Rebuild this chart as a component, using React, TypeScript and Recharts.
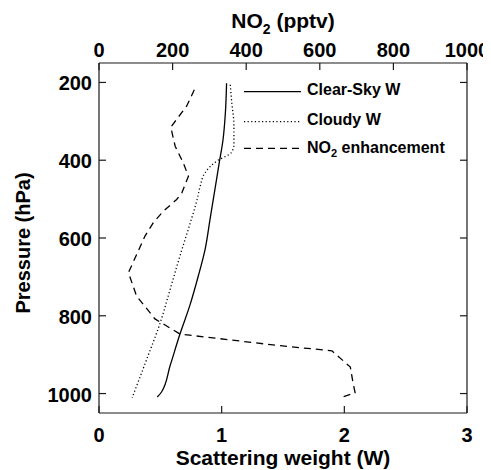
import React from 'react';
import { LineChart, Line, XAxis, YAxis, Legend } from 'recharts';

// pressure levels (hPa) and values
const clearP = [202, 280, 350, 407, 475, 552, 629, 697, 774, 847, 928, 996, 1009];
const clearW = [1.04, 1.03, 1.01, 0.98, 0.945, 0.905, 0.865, 0.81, 0.74, 0.66, 0.58, 0.51, 0.475];

const cloudyP = [206, 244, 313, 360, 380, 402, 432, 467, 501, 560, 646, 732, 817, 911, 1011];
const cloudyW = [1.07, 1.08, 1.1, 1.1, 1.08, 0.96, 0.865, 0.825, 0.8, 0.745, 0.66, 0.58, 0.5, 0.39, 0.27];

const no2P = [219, 261, 315, 364, 407, 441, 484, 501, 531, 560, 595, 689, 749, 808, 847, 877, 890, 932, 971, 998, 1011];
const no2V = [259, 238, 195, 207, 229, 243, 225, 211, 175, 148, 125, 80, 102, 152, 220, 492, 633, 683, 690, 696, 655];

const pressureTicks = [200, 400, 600, 800, 1000];
const wTicks = [0, 1, 2, 3];
const no2Ticks = [0, 200, 400, 600, 800, 1000];

const clearData = clearP.map((p, i) => ({ p, w: clearW[i] }));
const cloudyData = cloudyP.map((p, i) => ({ p, w: cloudyW[i] }));
const no2Data = no2P.map((p, i) => ({ p, v: no2V[i] }));

const FONT = '"Liberation Sans", Arial, Helvetica, sans-serif';
const AXIS = '#1a1a1a';
const TICK_LEN = 7;
const tickText = { fontFamily: FONT, fontSize: 20, fontWeight: 700, fill: '#000' };
const titleText = { fontFamily: FONT, fontSize: 21, fontWeight: 700, fill: '#000' };

const LeftTick = (props: any) => {
  const { x, y, payload } = props;
  return (
    <g>
      <line x1={x} x2={x + TICK_LEN} y1={y} y2={y} stroke={AXIS} strokeWidth={1.2} />
      <text x={x - 7} y={y} dy={8} textAnchor="end" style={tickText}>{payload.value}</text>
    </g>
  );
};

const RightTick = (props: any) => {
  const { x, y } = props;
  return <line x1={x - TICK_LEN} x2={x} y1={y} y2={y} stroke={AXIS} strokeWidth={1.2} />;
};

const BottomTick = (props: any) => {
  const { x, y, payload } = props;
  return (
    <g>
      <line x1={x} x2={x} y1={y - TICK_LEN} y2={y} stroke={AXIS} strokeWidth={1.2} />
      <text x={x} y={y + 29} textAnchor="middle" style={tickText}>{payload.value}</text>
    </g>
  );
};

const TopTick = (props: any) => {
  const { x, y, payload } = props;
  return (
    <g>
      <line x1={x} x2={x} y1={y} y2={y + TICK_LEN} stroke={AXIS} strokeWidth={1.2} />
      <text x={x} y={y - 6} textAnchor="middle" style={tickText}>{payload.value}</text>
    </g>
  );
};

const TopTitle = (props: any) => {
  const { viewBox } = props;
  const cx = viewBox.x + viewBox.width / 2;
  return (
    <text x={cx} y={20} textAnchor="middle" style={titleText}>
      NO<tspan dy={6} fontSize={14}>2</tspan>
      <tspan dy={-6}> (pptv)</tspan>
    </text>
  );
};

const BottomTitle = (props: any) => {
  const { viewBox } = props;
  const cx = viewBox.x + viewBox.width / 2;
  return (
    <text x={cx} y={457} textAnchor="middle" style={titleText}>
      Scattering weight (W)
    </text>
  );
};

const LeftTitle = (props: any) => {
  const { viewBox } = props;
  const cy = viewBox.y + viewBox.height / 2 + 5;
  const x = 22;
  return (
    <text x={x} y={cy} textAnchor="middle" transform={`rotate(-90 ${x} ${cy})`} style={{ ...titleText, fontSize: 20 }}>
      Pressure (hPa)
    </text>
  );
};

const legendItems = [
  { label: 'Clear-Sky W', dash: undefined, lineY: 13.7, textY: 17 },
  { label: 'Cloudy W', dash: '1.2 2.4', lineY: 43.7, textY: 47 },
  { label: 'NO2 enhancement', dash: '7 5', lineY: 70.3, textY: 75.3 },
];

const LegendBox = () => (
  <svg width={245} height={90} style={{ display: 'block', overflow: 'visible' }}>
    {legendItems.map((it) => (
      <g key={it.label}>
        <line x1={0} x2={57} y1={it.lineY} y2={it.lineY} stroke="#000" strokeWidth={1.3} strokeDasharray={it.dash} />
        <text x={63} y={it.textY} style={{ fontFamily: FONT, fontSize: 16, fontWeight: 700, fill: '#000' }}>
          {it.label.startsWith('NO2') ? (
            <>
              NO<tspan dy={4} fontSize={11}>2</tspan>
              <tspan dy={-4}> enhancement</tspan>
            </>
          ) : (
            it.label
          )}
        </text>
      </g>
    ))}
  </svg>
);

export default function App() {
  return (
    <LineChart
      width={483}
      height={462}
      layout="vertical"
      margin={{ top: 0, right: 0, bottom: 0, left: 0 }}
    >
      <XAxis
        xAxisId="bottom"
        type="number"
        orientation="bottom"
        domain={[0, 3]}
        ticks={wTicks}
        interval={0}
        height={57}
        allowDataOverflow
        tickLine={false}
        tickSize={0}
        tickMargin={0}
        tick={<BottomTick />}
        axisLine={{ stroke: AXIS, strokeWidth: 1.2 }}
        label={{ content: <BottomTitle /> }}
      />
      <XAxis
        xAxisId="top"
        type="number"
        orientation="top"
        domain={[0, 1000]}
        ticks={no2Ticks}
        interval={0}
        height={55}
        allowDataOverflow
        tickLine={false}
        tickSize={0}
        tickMargin={0}
        tick={<TopTick />}
        axisLine={{ stroke: AXIS, strokeWidth: 1.2 }}
        label={{ content: <TopTitle /> }}
      />
      <YAxis
        yAxisId="left"
        type="number"
        dataKey="p"
        orientation="left"
        domain={[150, 1050]}
        ticks={pressureTicks}
        interval={0}
        width={91}
        allowDataOverflow
        tickLine={false}
        tickSize={0}
        tickMargin={0}
        tick={<LeftTick />}
        axisLine={{ stroke: AXIS, strokeWidth: 1.2 }}
        label={{ content: <LeftTitle /> }}
      />
      <YAxis
        yAxisId="right"
        type="number"
        dataKey="p"
        orientation="right"
        domain={[150, 1050]}
        ticks={pressureTicks}
        interval={0}
        width={24}
        allowDataOverflow
        tickLine={false}
        tickSize={0}
        tickMargin={0}
        tick={<RightTick />}
        axisLine={{ stroke: AXIS, strokeWidth: 1.2 }}
      />
      <Line
        data={clearData}
        dataKey="w"
        xAxisId="bottom"
        yAxisId="left"
        type="monotone"
        stroke="#000"
        strokeWidth={1.3}
        dot={false}
        isAnimationActive={false}
      />
      <Line
        data={cloudyData}
        dataKey="w"
        xAxisId="bottom"
        yAxisId="left"
        type="monotone"
        stroke="#000"
        strokeWidth={1.3}
        strokeDasharray="1.2 2.4"
        dot={false}
        isAnimationActive={false}
      />
      <Line
        data={no2Data}
        dataKey="v"
        xAxisId="top"
        yAxisId="left"
        type="linear"
        stroke="#000"
        strokeWidth={1.3}
        strokeDasharray="7 5"
        dot={false}
        isAnimationActive={false}
      />
      <Legend
        layout="horizontal"
        verticalAlign="middle"
        align="center"
        wrapperStyle={{ top: 70, left: 236, width: 245, height: 90 }}
        content={<LegendBox />}
      />
    </LineChart>
  );
}
